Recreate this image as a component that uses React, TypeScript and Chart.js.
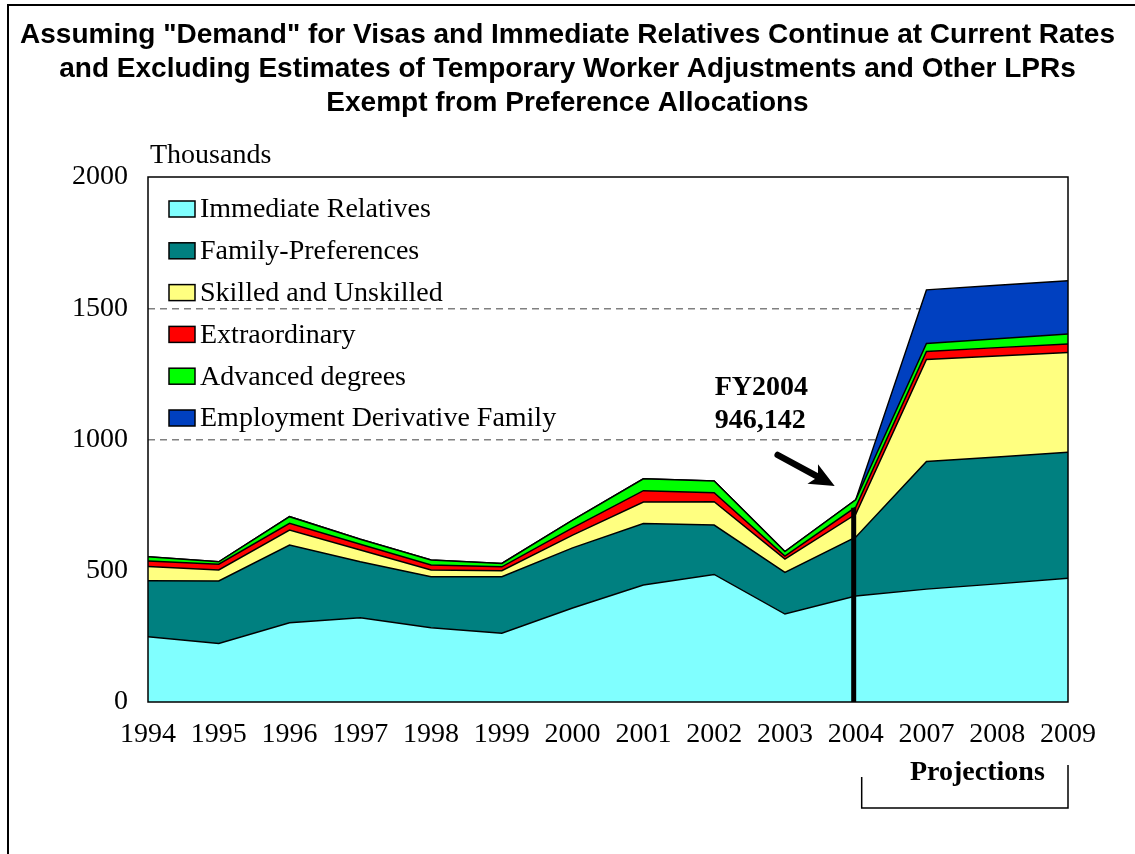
import React, { useEffect, useRef } from 'react';
import { Chart, registerables } from 'chart.js';

Chart.register(...registerables);

// ---------- data (thousands) ----------
const categories = ['1994', '1995', '1996', '1997', '1998', '1999', '2000', '2001', '2002', '2003', '2004', '2007', '2008', '2009'];
const immediateRelatives = [249, 223, 302, 321, 283, 262, 358, 446, 486, 335, 404, 430, 450, 471];
const familyPreferences = [213, 238, 296, 213, 194, 215, 229, 234, 188, 159, 224, 486, 483, 480];
const skilledUnskilled = [54, 42, 57, 45, 26, 23, 49, 82, 89, 50, 87, 389, 385, 380];
const extraordinary = [21, 22, 26, 22, 19, 15, 27, 43, 34, 12, 27, 30, 32, 33];
const advancedDegrees = [16, 9, 25, 19, 19, 13, 30, 45, 45, 17, 28, 31, 34, 38];
const employmentDerivative = [0, 0, 0, 0, 0, 0, 0, 0, 0, 0, 0, 204, 204, 203];

const seriesLabels = ['Immediate Relatives', 'Family-Preferences', 'Skilled and Unskilled', 'Extraordinary', 'Advanced degrees', 'Employment Derivative Family'];
const seriesColors = ['#80FFFF', '#008080', '#FFFF80', '#FF0000', '#00FF00', '#0040C0'];
const seriesValues = [immediateRelatives, familyPreferences, skilledUnskilled, extraordinary, advancedDegrees, employmentDerivative];

const yTicks = [0, 500, 1000, 1500, 2000];
const titleLines = [
  'Assuming "Demand" for Visas and Immediate Relatives Continue at Current Rates',
  'and Excluding Estimates of Temporary Worker Adjustments and Other LPRs',
  'Exempt from Preference Allocations',
];
const yUnitLabel = 'Thousands';
const markerYear = '2004';
const markerTop = 740;
const markerNote = ['FY2004', '946,142'];
const projectionsLabel = 'Projections';

const SERIF = "'Liberation Serif', 'Times New Roman', serif";
const SANS = "'Liberation Sans', Arial, sans-serif";

const overlayPlugin = {
  id: 'overlay',
  afterDatasetsDraw(chart: any) {
    const { ctx, chartArea: a, scales } = chart;
    const xs = scales.x;
    const ys = scales.y;
    ctx.save();

    // plot frame
    ctx.strokeStyle = '#000';
    ctx.lineWidth = 1.5;
    ctx.strokeRect(a.left, a.top, a.right - a.left, a.bottom - a.top);

    // 2004 marker line
    const xm = xs.getPixelForValue(categories.indexOf(markerYear)) - 2;
    ctx.lineWidth = 5;
    ctx.beginPath();
    ctx.moveTo(xm, ys.getPixelForValue(0));
    ctx.lineTo(xm, ys.getPixelForValue(markerTop));
    ctx.stroke();

    // arrow
    const tail = { x: xm - 76, y: ys.getPixelForValue(941) };
    const tip = { x: xm - 19, y: ys.getPixelForValue(823) };
    const dx = tip.x - tail.x, dy = tip.y - tail.y;
    const len = Math.hypot(dx, dy);
    const ux = dx / len, uy = dy / len;
    const headLen = 25, headHalf = 11;
    const bx = tip.x - ux * headLen, by = tip.y - uy * headLen;
    ctx.lineWidth = 6.5;
    ctx.lineCap = 'round';
    ctx.beginPath();
    ctx.moveTo(tail.x, tail.y);
    ctx.lineTo(bx + ux * 4, by + uy * 4);
    ctx.stroke();
    ctx.fillStyle = '#000';
    ctx.beginPath();
    ctx.moveTo(tip.x, tip.y);
    ctx.lineTo(bx - uy * headHalf, by + ux * headHalf);
    ctx.lineTo(bx + ux * 6, by + uy * 6);
    ctx.lineTo(bx + uy * headHalf, by - ux * headHalf);
    ctx.closePath();
    ctx.fill();

    // annotation text
    ctx.fillStyle = '#000';
    ctx.font = `bold 28px ${SERIF}`;
    ctx.textAlign = 'left';
    ctx.textBaseline = 'middle';
    ctx.fillText(markerNote[0], xm - 139, 388);
    ctx.fillText(markerNote[1], xm - 139, 421);

    // legend (inside the plot)
    ctx.font = `28px ${SERIF}`;
    chart.data.datasets.forEach((ds: any, i: number) => {
      const cy = a.top + 32 + i * 41.8;
      ctx.fillStyle = ds.backgroundColor;
      ctx.fillRect(a.left + 21, cy - 8, 26, 16);
      ctx.lineWidth = 1.5;
      ctx.strokeStyle = '#000';
      ctx.strokeRect(a.left + 21, cy - 8, 26, 16);
      ctx.fillStyle = '#000';
      ctx.fillText(ds.label, a.left + 52, cy + 1);
    });

    ctx.restore();
  },
  afterDraw(chart: any) {
    const { ctx, chartArea: a, scales } = chart;
    const xs = scales.x;
    ctx.save();
    ctx.fillStyle = '#000';
    ctx.textBaseline = 'middle';
    ctx.textAlign = 'left';
    ctx.font = `28px ${SERIF}`;
    ctx.fillText(yUnitLabel, a.left + 2, a.top - 21);

    // projections bracket
    const xl = xs.getPixelForValue(categories.indexOf(markerYear)) + 6;
    const xr = a.right;
    ctx.strokeStyle = '#000';
    ctx.lineWidth = 1.5;
    ctx.beginPath();
    ctx.moveTo(xl, a.bottom + 75);
    ctx.lineTo(xl, a.bottom + 106);
    ctx.lineTo(xr, a.bottom + 106);
    ctx.lineTo(xr, a.bottom + 63);
    ctx.stroke();
    ctx.font = `bold 28px ${SERIF}`;
    ctx.fillText(projectionsLabel, 910, a.bottom + 71);
    ctx.restore();
  },
};

export default function App() {
  const ref = useRef<HTMLCanvasElement | null>(null);
  useEffect(() => {
    if (!ref.current) return;
    const datasets = seriesValues.map((vals, i) => ({
      label: seriesLabels[i],
      data: vals,
      backgroundColor: seriesColors[i],
      borderColor: '#000',
      borderWidth: 1.5,
      pointRadius: 0,
      tension: 0,
      fill: i === 0 ? 'origin' : '-1',
    }));
    const chart = new Chart(ref.current, {
      type: 'line',
      data: { labels: categories, datasets },
      options: {
        responsive: false,
        animation: false,
        devicePixelRatio: 1,
        layout: { padding: { left: 0, right: 0, top: 0, bottom: 0 } },
        plugins: {
          legend: { display: false },
          tooltip: { enabled: false },
          title: {
            display: true,
            text: titleLines,
            color: '#000',
            font: { family: SANS, size: 28, weight: 'bold', lineHeight: 34 / 28 },
            padding: { top: 18, bottom: 57 },
          },
        },
        scales: {
          x: {
            offset: false,
            grid: { display: false, drawTicks: false },
            border: { display: false },
            ticks: { color: '#000', font: { family: SERIF, size: 28 }, padding: 16, maxRotation: 0, autoSkip: false },
            afterFit: (s: any) => { s.height = 152; },
          },
          y: {
            stacked: true,
            min: 0,
            max: 2000,
            afterBuildTicks: (s: any) => { s.ticks = yTicks.map((v) => ({ value: v })); },
            grid: {
              drawTicks: false,
              lineWidth: 1.5,
              color: (c: any) => (c.tick && c.tick.value > 0 && c.tick.value < 2000 ? '#808080' : 'rgba(0,0,0,0)'),
            },
            border: { display: false, dash: [7, 5] },
            ticks: { color: '#000', font: { family: SERIF, size: 28 }, padding: 20, callback: (v: any) => String(v) },
            afterFit: (s: any) => { s.width = 148; },
          },
          yRightSpace: {
            type: 'linear',
            position: 'right',
            display: true,
            grid: { display: false, drawTicks: false },
            border: { display: false },
            ticks: { display: false },
            afterFit: (s: any) => { s.width = 67; },
          },
        },
      },
      plugins: [overlayPlugin],
    });
    return () => chart.destroy();
  }, []);

  return (
    <div>
      <div
        style={{
          position: 'absolute',
          left: 7,
          top: 4,
          width: 1128,
          height: 850,
          boxSizing: 'border-box',
          borderLeft: '2px solid #000',
          borderTop: '2px solid #000',
        }}
      />
      <canvas ref={ref} width={1135} height={854} style={{ position: 'absolute', left: 0, top: 0 }} />
    </div>
  );
}
